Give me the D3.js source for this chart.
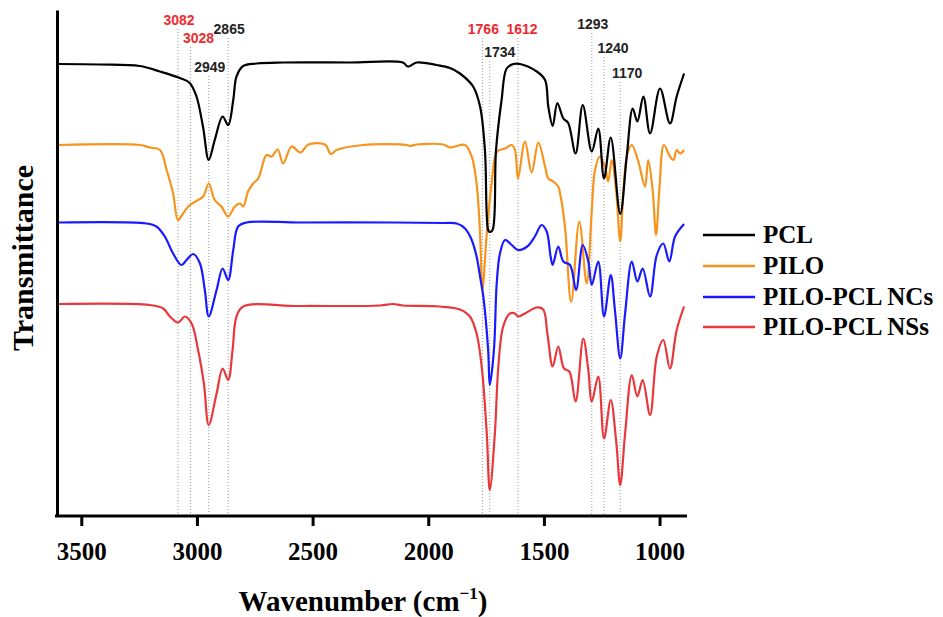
<!DOCTYPE html>
<html>
<head>
<meta charset="utf-8">
<script src="https://cdn.jsdelivr.net/npm/d3@7"></script>
<style>
  body { margin: 0; background: #ffffff; }
  svg { display: block; }
</style>
</head>
<body>
<svg id="chart" width="943" height="617"></svg>
<script>
// FTIR spectra, stacked (transmittance, arbitrary units), x = wavenumber in cm^-1
const seriesNames  = ["PCL", "PILO", "PILO-PCL NCs", "PILO-PCL NSs"];
const seriesColors = ["#000000", "#f7941d", "#1a1aff", "#e8383c"];

const pcl = [
  [3600, 90.4], [3420, 90.3], [3247, 90.0], [3160, 88.9], [3074, 87.6], [3031, 86.6],
  [3002, 83.9], [2974, 77.9], [2949, 71.2], [2923, 75.2], [2889, 79.9], [2865, 78.2],
  [2843, 83.2], [2829, 87.9], [2800, 90.0], [2742, 90.5], [2627, 90.7], [2339, 90.7],
  [2110, 90.7], [2088, 89.9], [2050, 90.7], [1964, 90.2], [1906, 89.6], [1863, 88.5],
  [1806, 85.9], [1776, 81.9], [1755, 73.2], [1741, 57.2], [1734, 56.8], [1722, 57.2],
  [1707, 73.2], [1683, 83.2], [1661, 89.5], [1632, 90.4], [1603, 90.4], [1531, 88.9],
  [1495, 87.2], [1481, 81.9], [1462, 78.0], [1442, 82.6], [1416, 79.5], [1395, 78.6],
  [1363, 72.5], [1332, 82.2], [1293, 72.9], [1265, 77.5], [1240, 67.5], [1211, 75.7],
  [1170, 60.4], [1142, 71.9], [1116, 81.5], [1096, 78.9], [1070, 83.9], [1041, 76.5],
  [998, 85.5], [955, 78.5], [926, 83.9], [894, 88.5]
];

const pilo = [
  [3600, 74.2], [3247, 74.2], [3204, 73.7], [3160, 73.2], [3131, 69.2], [3103, 64.5],
  [3082, 59.2], [3060, 60.5], [3031, 62.2], [2995, 63.2], [2973, 63.9], [2949, 66.5],
  [2923, 63.2], [2894, 61.9], [2865, 59.9], [2836, 61.9], [2814, 62.5], [2800, 61.9],
  [2779, 64.9], [2757, 66.5], [2735, 67.5], [2699, 72.2], [2677, 71.9], [2651, 73.3],
  [2627, 70.5], [2591, 73.9], [2552, 72.7], [2519, 74.3], [2447, 74.3], [2421, 72.4],
  [2396, 73.2], [2281, 74.2], [2094, 74.2], [2079, 74.0], [2050, 74.3], [1935, 74.3],
  [1906, 73.7], [1885, 73.9], [1841, 74.2], [1812, 71.9], [1791, 66.5], [1776, 56.5],
  [1766, 45.2], [1747, 56.5], [1726, 66.5], [1702, 72.9], [1668, 73.5], [1639, 74.2],
  [1625, 73.2], [1612, 67.5], [1582, 74.9], [1553, 68.7], [1524, 74.7], [1495, 69.9],
  [1481, 67.5], [1459, 66.9], [1438, 65.9], [1430, 64.5], [1409, 57.9], [1382, 42.8],
  [1347, 58.9], [1315, 46.5], [1293, 61.2], [1279, 69.2], [1258, 71.9], [1236, 69.9],
  [1222, 66.9], [1207, 71.2], [1188, 65.2], [1170, 54.9], [1157, 64.5], [1139, 72.5],
  [1120, 74.2], [1092, 70.9], [1063, 65.9], [1049, 71.2], [1030, 65.2], [1015, 56.2],
  [1001, 65.2], [981, 74.2], [955, 71.9], [940, 71.2], [926, 73.2], [911, 72.5],
  [894, 73.2]
];

const pilopclNCs = [
  [3600, 58.7], [3218, 58.5], [3175, 57.9], [3139, 55.9], [3103, 52.5], [3067, 50.2],
  [3045, 51.2], [3016, 52.4], [2987, 50.5], [2966, 45.2], [2949, 39.9], [2915, 45.2],
  [2889, 49.5], [2865, 47.2], [2843, 53.2], [2822, 57.9], [2785, 58.7], [2555, 58.7],
  [2153, 58.7], [1935, 58.6], [1877, 58.5], [1841, 57.5], [1812, 55.2], [1791, 51.9],
  [1776, 47.9], [1762, 43.9], [1741, 33.2], [1734, 26.2], [1716, 33.2], [1704, 46.5],
  [1690, 52.5], [1668, 55.2], [1639, 54.2], [1612, 53.2], [1572, 53.9], [1539, 55.9],
  [1510, 58.2], [1488, 56.9], [1471, 51.9], [1462, 50.2], [1438, 53.9], [1416, 50.9],
  [1387, 50.2], [1361, 45.2], [1332, 54.2], [1308, 50.9], [1293, 46.2], [1265, 50.9],
  [1240, 39.9], [1211, 48.2], [1193, 41.2], [1170, 31.5], [1149, 40.5], [1120, 50.9],
  [1096, 46.9], [1073, 49.5], [1041, 43.9], [1012, 52.2], [984, 54.5], [958, 50.9],
  [933, 55.9], [894, 58.4]
];

const pilopclNSs = [
  [3600, 42.4], [3204, 42.2], [3146, 41.5], [3117, 39.9], [3081, 38.7], [3052, 39.9],
  [3023, 38.5], [2995, 33.2], [2970, 26.5], [2949, 18.2], [2915, 24.5], [2889, 29.5],
  [2865, 27.2], [2846, 33.2], [2829, 39.9], [2800, 41.9], [2555, 42.0], [2209, 42.1],
  [2153, 42.4], [2110, 42.1], [1950, 41.9], [1863, 41.3], [1820, 39.9], [1791, 36.5],
  [1769, 29.9], [1747, 16.5], [1734, 5.2], [1712, 16.5], [1697, 29.9], [1676, 37.9],
  [1647, 40.5], [1625, 40.5], [1612, 39.9], [1582, 40.5], [1531, 41.7], [1503, 41.3],
  [1485, 36.5], [1462, 29.9], [1438, 33.9], [1413, 29.5], [1390, 28.9], [1363, 22.9],
  [1330, 35.5], [1308, 29.2], [1293, 22.9], [1265, 27.9], [1240, 15.5], [1211, 23.2],
  [1188, 15.2], [1170, 6.2], [1149, 16.5], [1120, 28.2], [1096, 23.9], [1073, 27.2],
  [1041, 20.2], [1012, 31.9], [984, 35.2], [955, 29.5], [926, 37.2], [894, 41.9]
];

const xTickValues = [3500, 3000, 2500, 2000, 1500, 1000];

// Marked absorption bands; highlighted ones are drawn in red
const markedBands      = [3082, 3028, 2949, 2865, 1766, 1734, 1612, 1293, 1240, 1170];
const highlightedBands = [3082, 3028, 1766, 1612];

// Placement of the band labels (horizontal nudge, label centre height)
const bandLabelLayout = {
  3082: { dx: 1,  cy: 20 }, 3028: { dx: 8,  cy: 38 }, 2949: { dx: 1, cy: 67 },
  2865: { dx: 1,  cy: 29 }, 1766: { dx: 1,  cy: 29 }, 1734: { dx: 10, cy: 52 },
  1612: { dx: 4,  cy: 29 }, 1293: { dx: 1,  cy: 24 }, 1240: { dx: 9, cy: 48 },
  1170: { dx: 7,  cy: 73 }
};

const seriesData = [pcl, pilo, pilopclNCs, pilopclNSs];
const drawOrder = [1, 0, 2, 3];

const svg = d3.select("#chart");
const serif = "'Liberation Serif', 'Times New Roman', serif";
const sans = "'Liberation Sans', Arial, sans-serif";

const x = d3.scaleLinear().domain([3605, 890]).range([57, 685]);
const y = d3.scaleLinear().domain([0, 101.2]).range([516, 10]);

// Dotted reference lines for the marked bands
const bandG = svg.append("g");
markedBands.forEach(b => {
  const lay = bandLabelLayout[b];
  bandG.append("line")
    .attr("x1", x(b)).attr("x2", x(b))
    .attr("y1", lay.cy + 9).attr("y2", y(0) - 2)
    .attr("stroke", "#9a9a9a").attr("stroke-width", 1)
    .attr("stroke-dasharray", "1,2");
  bandG.append("text")
    .attr("x", x(b) + lay.dx).attr("y", lay.cy)
    .attr("dy", "0.36em")
    .attr("text-anchor", "middle")
    .attr("font-family", sans).attr("font-weight", "bold").attr("font-size", 14)
    .attr("fill", highlightedBands.includes(b) ? "#ee2a2e" : "#222222")
    .text(b);
});

// Spectra
const line = d3.line()
  .x(d => x(d[0]))
  .y(d => y(d[1]))
  .curve(d3.curveCatmullRom.alpha(0.5));

drawOrder.forEach(i => {
  svg.append("path")
    .datum(seriesData[i])
    .attr("fill", "none")
    .attr("stroke", seriesColors[i])
    .attr("stroke-width", 2.2)
    .attr("stroke-linejoin", "round")
    .attr("d", line);
});

// Axes
const xAxis = svg.append("g")
  .attr("transform", `translate(0,${y(0)})`)
  .call(d3.axisBottom(x).tickValues(xTickValues).tickSize(10).tickSizeOuter(0).tickPadding(16).tickFormat(d3.format("d")));
xAxis.select(".domain").attr("stroke-width", 3).attr("d", `M55,0H687`);
xAxis.selectAll(".tick line").attr("stroke-width", 3);
xAxis.selectAll(".tick text")
  .attr("font-family", serif).attr("font-weight", "bold").attr("font-size", 25).attr("fill", "#000");

const yAxis = svg.append("g")
  .attr("transform", `translate(${x(3605)},0)`)
  .call(d3.axisLeft(y).tickValues([]).tickSizeOuter(0));
yAxis.select(".domain").attr("stroke-width", 3);

// Axis titles
const xTitle = svg.append("text")
  .attr("x", 363).attr("y", 611)
  .attr("text-anchor", "middle")
  .attr("font-family", serif).attr("font-weight", "bold").attr("font-size", 29);
xTitle.append("tspan").text("Wavenumber (cm");
xTitle.append("tspan").attr("font-size", 17).attr("dy", -12).text("\u22121");
xTitle.append("tspan").attr("dy", 12).text(")");

svg.append("text")
  .attr("transform", "translate(33,258) rotate(-90)")
  .attr("text-anchor", "middle")
  .attr("font-family", serif).attr("font-weight", "bold").attr("font-size", 30)
  .text("Transmittance");

// Legend
const legendRows = [235, 266, 297, 327];
seriesNames.forEach((name, i) => {
  svg.append("line")
    .attr("x1", 703).attr("x2", 755)
    .attr("y1", legendRows[i]).attr("y2", legendRows[i])
    .attr("stroke", seriesColors[i]).attr("stroke-width", 2.5);
  svg.append("text")
    .attr("x", 763).attr("y", legendRows[i]).attr("dy", "0.33em")
    .attr("font-family", serif).attr("font-weight", "bold").attr("font-size", 25)
    .attr("fill", "#000")
    .text(name);
});
</script>
</body>
</html>
